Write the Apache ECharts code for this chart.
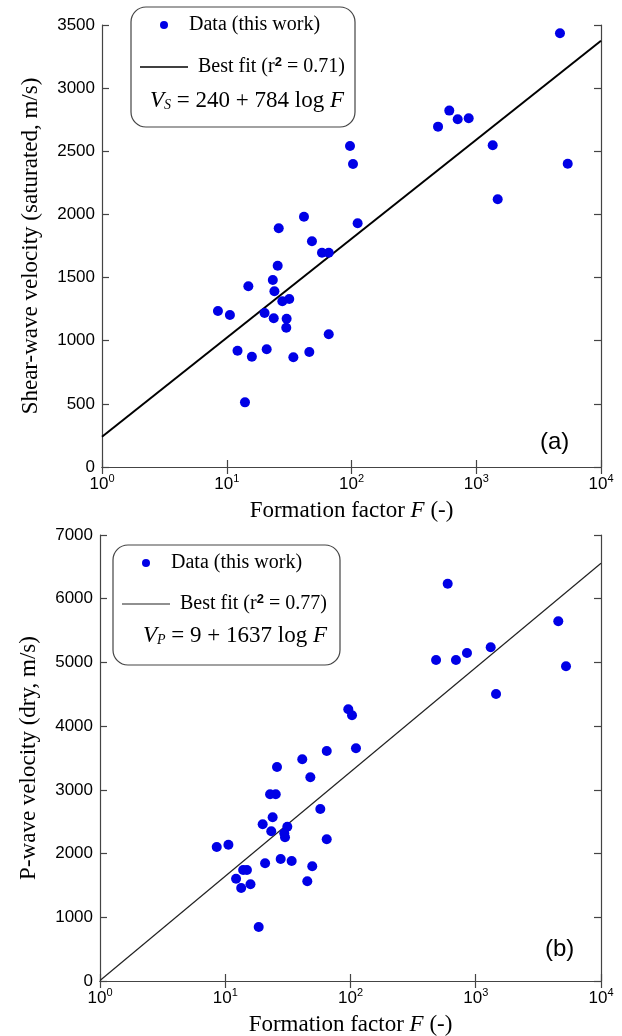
<!DOCTYPE html>
<html>
<head>
<meta charset="utf-8">
<script src="https://cdn.jsdelivr.net/npm/echarts@6/dist/echarts.min.js"></script>
<style>
html,body{margin:0;padding:0;background:#fff;}
#chart{width:622px;height:1036px;}
</style>
</head>
<body>
<div id="chart"></div>
<script>
// ---- data ----
const F_A = [8.5, 10.6, 12.2, 14.0, 14.9, 15.9, 20.1, 20.9, 23.4, 24.1, 23.8, 25.6, 26.1, 27.9, 30.2, 30.0, 31.7, 34.2, 41.6, 45.9, 48.2, 58.0, 65.7, 65.7, 97.3, 102.8, 112, 494, 608, 710, 870, 1355, 1486, 4690, 5410];
const VS  = [1235, 1204, 921, 512, 1431, 873, 1220, 932, 1481, 1391, 1178, 1594, 1890, 1312, 1174, 1103, 1330, 869, 1982, 911, 1787, 1697, 1697, 1051, 2542, 2399, 1930, 2695, 2822, 2753, 2761, 2548, 2120, 3435, 2402];

const F_B = [96.0, 102.8, 64.6, 110.6, 41.2, 25.9, 47.8, 22.8, 25.3, 57.4, 23.9, 19.9, 31.3, 23.3, 29.6, 30.0, 64.6, 8.55, 10.6, 20.8, 27.7, 33.9, 49.5, 13.9, 14.9, 12.2, 15.9, 13.4, 45.2, 18.5, 597, 4560, 482, 695, 851, 1316, 5255, 1452];
const VP  = [4264, 4170, 3610, 3652, 3480, 3359, 3197, 2930, 2930, 2700, 2569, 2459, 2422, 2349, 2318, 2255, 2224, 2103, 2139, 1847, 1915, 1883, 1800, 1742, 1742, 1606, 1518, 1460, 1565, 848, 6236, 5646, 5038, 5038, 5148, 5237, 4939, 4504];

const FIT_A_F = [1, 10000];
const FIT_A_V = [240, 3376];
const FIT_B_F = [1, 10000];
const FIT_B_V = [9, 6557];

const X_RANGE = [1, 10000];
const Y_A = {min: 0, max: 3500, interval: 500};
const Y_B = {min: 0, max: 7000, interval: 1000};

const DATA_NAME = 'Data (this work)';
const FIT_A_NAME = 'Best fit (r2 = 0.71)';
const FIT_B_NAME = 'Best fit (r2 = 0.77)';
const YNAME_A = 'Shear-wave velocity (saturated, m/s)';
const YNAME_B = 'P-wave velocity (dry, m/s)';

const zip = (a, b) => a.map((v, i) => [v, b[i]]);

const SERIF = '"Liberation Serif", "Times New Roman", serif';
const SANS = '"Liberation Sans", Arial, sans-serif';
const AXC = '#444';
const DOT = '#0000e6';

function xAxes(gi) {
  const base = {
    type: 'log', logBase: 10, min: X_RANGE[0], max: X_RANGE[1], gridIndex: gi,
    axisLine: {show: true, lineStyle: {color: AXC, width: 1.2}},
    axisTick: {show: true, inside: true, length: 7, lineStyle: {color: AXC, width: 1.2}},
    splitLine: {show: false}, minorTick: {show: false}
  };
  return [
    Object.assign({}, base, {
      position: 'bottom',
      axisLabel: {
        margin: 6, color: '#000',
        formatter: v => '{b|10}{s|' + Math.round(Math.log10(v)) + '}',
        rich: {
          b: {fontFamily: SANS, fontSize: 17, color: '#000'},
          s: {fontFamily: SANS, fontSize: 11, color: '#000', padding: [0, 0, 12, 0]}
        }
      },
      name: 'Formation factor {i|F} (-)', nameLocation: 'middle', nameGap: 32,
      nameTextStyle: {
        fontFamily: SERIF, fontSize: 23, color: '#000',
        rich: {i: {fontFamily: SERIF, fontSize: 23, fontStyle: 'italic', color: '#000'}}
      }
    }),
    Object.assign({}, base, {position: 'top', axisLabel: {show: false}})
  ];
}

function yAxes(gi, rng, name) {
  const base = {
    type: 'value', min: rng.min, max: rng.max, interval: rng.interval, gridIndex: gi,
    axisLine: {show: true, lineStyle: {color: AXC, width: 1.2}},
    axisTick: {show: true, inside: true, length: 7, lineStyle: {color: AXC, width: 1.2}},
    splitLine: {show: false}
  };
  return [
    Object.assign({}, base, {
      position: 'left',
      axisLabel: {margin: 7, fontFamily: SANS, fontSize: 17, color: '#000', formatter: v => String(v)},
      name: name, nameLocation: 'middle', nameRotate: 90, nameGap: 60,
      nameTextStyle: {fontFamily: SERIF, fontSize: 23, color: '#000'}
    }),
    Object.assign({}, base, {position: 'right', axisLabel: {show: false}})
  ];
}

const legendRich = {
  sup: {fontFamily: SANS, fontSize: 13, fontWeight: 'bold', color: '#000', padding: [0, 0, 9, 0]}
};
const legendFmt = n => n.replace('r2', 'r{sup|2}');

function legend(left, top, gap, fitName, lineIcon) {
  return {
    show: true, orient: 'vertical', left: left, top: top, itemGap: gap,
    itemWidth: 48, itemHeight: 8, padding: 0, selectedMode: false,
    formatter: legendFmt,
    textStyle: {fontFamily: SERIF, fontSize: 20, color: '#000', lineHeight: 22, rich: legendRich},
    data: [
      {name: DATA_NAME, icon: 'circle', itemStyle: {color: DOT, opacity: 1}, textStyle: {padding: [0, 0, 0, -4]}},
      {name: fitName, icon: lineIcon, textStyle: {padding: [0, 0, 0, 5]}}
    ]
  };
}

const formulaRich = {
  it: {fontFamily: SERIF, fontSize: 23, fontStyle: 'italic', color: '#000'},
  sub: {fontFamily: SERIF, fontSize: 14, fontStyle: 'italic', color: '#000', padding: [10, 0, 0, 0]},
  n: {fontFamily: SERIF, fontSize: 23, color: '#000'}
};

const option = {
  backgroundColor: '#fff',
  animation: false,
  grid: [
    {left: 102, top: 25, width: 499, height: 442, outerBoundsMode: 'none', containLabel: false},
    {left: 100, top: 535, width: 501, height: 446, outerBoundsMode: 'none', containLabel: false}
  ],
  xAxis: xAxes(0).concat(xAxes(1)),
  yAxis: yAxes(0, Y_A, YNAME_A).concat(yAxes(1, Y_B, YNAME_B)),
  legend: [
    legend(140, 14, 20, FIT_A_NAME, 'path://M0,0H48V1.6H0Z'),
    legend(122, 552, 19, FIT_B_NAME, 'path://M0,0H48V1.2H0Z')
  ],
  graphic: [
    {type: 'rect', z: 3, shape: {x: 131, y: 7, width: 224, height: 120, r: 15},
     style: {fill: '#fff', stroke: '#444', lineWidth: 1.2}},
    {type: 'rect', z: 3, shape: {x: 113, y: 545, width: 227, height: 120, r: 15},
     style: {fill: '#fff', stroke: '#444', lineWidth: 1.2}},
    {type: 'text', z: 5, left: 150, top: 89,
     style: {text: '{it|V}{sub|S}{n| = 240 + 784 log }{it|F}', rich: formulaRich}},
    {type: 'text', z: 5, left: 143, top: 624,
     style: {text: '{it|V}{sub|P}{n| = 9 + 1637 log }{it|F}', rich: formulaRich}},
    {type: 'text', z: 5, left: 540, top: 430,
     style: {text: '(a)', fontFamily: SANS, fontSize: 24, fill: '#000'}},
    {type: 'text', z: 5, left: 545, top: 937,
     style: {text: '(b)', fontFamily: SANS, fontSize: 24, fill: '#000'}}
  ],
  series: [
    {name: DATA_NAME, type: 'scatter', xAxisIndex: 0, yAxisIndex: 0, data: zip(F_A, VS),
     symbol: 'circle', symbolSize: 10, itemStyle: {color: DOT, opacity: 1}, z: 3},
    {name: FIT_A_NAME, type: 'line', xAxisIndex: 0, yAxisIndex: 0, data: zip(FIT_A_F, FIT_A_V),
     symbol: 'none', showSymbol: false, lineStyle: {color: '#000', width: 2}, itemStyle: {color: '#000'}, z: 2},
    {name: DATA_NAME, type: 'scatter', xAxisIndex: 2, yAxisIndex: 2, data: zip(F_B, VP),
     symbol: 'circle', symbolSize: 10, itemStyle: {color: DOT, opacity: 1}, z: 3},
    {name: FIT_B_NAME, type: 'line', xAxisIndex: 2, yAxisIndex: 2, data: zip(FIT_B_F, FIT_B_V),
     symbol: 'none', showSymbol: false, lineStyle: {color: '#222', width: 1.2}, itemStyle: {color: '#222'}, z: 2}
  ]
};

const chart = echarts.init(document.getElementById('chart'), null, {renderer: 'canvas'});
chart.setOption(option);
</script>
</body>
</html>
